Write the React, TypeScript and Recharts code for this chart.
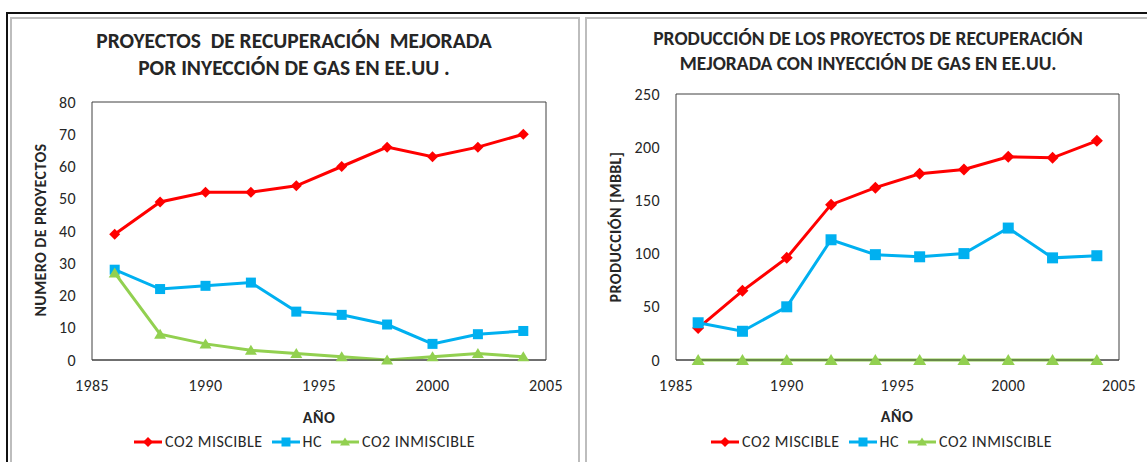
import { LineChart, Line, XAxis, YAxis, ReferenceArea } from 'recharts';

const years = [1986, 1988, 1990, 1992, 1994, 1996, 1998, 2000, 2002, 2004];
const projCO2Miscible = [39, 49, 52, 52, 54, 60, 66, 63, 66, 70];
const projHC = [28, 22, 23, 24, 15, 14, 11, 5, 8, 9];
const projCO2Inmiscible = [27, 8, 5, 3, 2, 1, 0, 1, 2, 1];
const prodCO2Miscible = [30, 65, 96, 146, 162, 175, 179, 191, 190, 206];
const prodHC = [35, 27, 50, 113, 99, 97, 100, 124, 96, 98];
const prodCO2Inmiscible = [0, 0, 0, 0, 0, 0, 0, 0, 0, 0];
const xTicks = [1985, 1990, 1995, 2000, 2005];
const projTicks = [0, 10, 20, 30, 40, 50, 60, 70, 80];
const prodTicks = [0, 50, 100, 150, 200, 250];

const FONT = 'Carlito, Lato, "Open Sans", sans-serif';
const TEXT = '#262626';

const series = [
  { key: 'co2m', name: 'CO2 MISCIBLE', color: '#ff0000', shape: 'diamond' },
  { key: 'hc', name: 'HC', color: '#00b0f0', shape: 'square' },
  { key: 'co2i', name: 'CO2 INMISCIBLE', color: '#92d050', shape: 'triangle' },
];

const projData = years.map((year, i) => ({
  year,
  co2m: projCO2Miscible[i],
  hc: projHC[i],
  co2i: projCO2Inmiscible[i],
}));
const prodData = years.map((year, i) => ({
  year,
  co2m: prodCO2Miscible[i],
  hc: prodHC[i],
  co2i: prodCO2Inmiscible[i],
}));

function Marker({ shape, cx, cy, color, size }: { shape: string; cx: number; cy: number; color: string; size: number }) {
  const r = size / 2;
  if (shape === 'diamond') {
    return <polygon points={`${cx},${cy - r} ${cx + r},${cy} ${cx},${cy + r} ${cx - r},${cy}`} fill={color} />;
  }
  if (shape === 'square') {
    return <rect x={cx - r} y={cy - r} width={size} height={size} fill={color} />;
  }
  return <polygon points={`${cx},${cy - r} ${cx + r + 0.5},${cy + r - 1} ${cx - r - 0.5},${cy + r - 1}`} fill={color} />;
}

function LegendRow({ left, top }: { left: number; top: number }) {
  return (
    <div style={{ position: 'absolute', left, top, display: 'flex', alignItems: 'center', fontFamily: FONT, fontSize: 16, letterSpacing: 0.5, color: TEXT, whiteSpace: 'nowrap' }}>
      {series.map((s) => (
        <div key={s.key} style={{ display: 'flex', alignItems: 'center', marginRight: 9 }}>
          <svg width={28} height={12} style={{ marginRight: 3 }}>
            <line x1={0} y1={6} x2={28} y2={6} stroke={s.color} strokeWidth={3} />
            <Marker shape={s.shape} cx={14} cy={6} color={s.color} size={s.shape === 'diamond' ? 10 : 9} />
          </svg>
          <span>{s.name}</span>
        </div>
      ))}
    </div>
  );
}

type PanelProps = {
  data: any[];
  left: number;
  width: number;
  margin: { top: number; right: number; bottom: number; left: number };
  yMax: number;
  yTicks: number[];
  markerSize: number;
};

const tickStyle = { fill: TEXT, fontSize: 16, fontFamily: FONT, letterSpacing: 0.4 };

function Panel({ data, left, width, margin, yMax, yTicks, markerSize }: PanelProps) {
  return (
    <div style={{ position: 'absolute', left, top: 0 }}>
      <LineChart width={width} height={462} data={data} margin={margin}>
        <XAxis
          type="number"
          dataKey="year"
          domain={[1985, 2005]}
          ticks={xTicks}
          tickLine={false}
          tickSize={0}
          tickMargin={20}
          height={30}
          axisLine={{ stroke: '#404040' }}
          tick={tickStyle}
        />
        <YAxis
          type="number"
          domain={[0, yMax]}
          ticks={yTicks}
          width={60}
          tickLine={false}
          tickSize={0}
          tickMargin={16}
          axisLine={false}
          tick={tickStyle}
        />
        <ReferenceArea x1={1985} x2={2005} y1={0} y2={yMax} fill="none" stroke="#404040" strokeWidth={1} />
        {series.map((s) => (
          <Line
            key={s.key}
            dataKey={s.key}
            name={s.name}
            type="linear"
            stroke={s.color}
            strokeWidth={3}
            isAnimationActive={false}
            dot={(p: any) => (
              <Marker key={`${s.key}-${p.index}`} shape={s.shape} cx={p.cx} cy={p.cy} color={s.color} size={s.shape === 'square' ? markerSize : markerSize + 1} />
            )}
            activeDot={false}
          />
        ))}
      </LineChart>
    </div>
  );
}

const titleStyle: React.CSSProperties = {
  position: 'absolute',
  fontFamily: FONT,
  fontWeight: 700,
  color: TEXT,
  textAlign: 'center',
  whiteSpace: 'pre',
  transform: 'translateX(-50%)',
};

const yLabelStyle: React.CSSProperties = {
  position: 'absolute',
  fontFamily: FONT,
  fontWeight: 700,
  fontSize: 16,
  letterSpacing: 0.4,
  color: TEXT,
  whiteSpace: 'nowrap',
  transform: 'translate(-50%, -50%) rotate(-90deg)',
};

export default function App() {
  return (
    <div style={{ position: 'absolute', left: 0, top: 0, width: 1147, height: 462, background: '#fff', overflow: 'hidden' }}>
      {/* frames */}
      <div style={{ position: 'absolute', left: 6, top: 12, width: 1141, height: 2, background: '#111' }} />
      <div style={{ position: 'absolute', left: 6, top: 12, width: 2, height: 450, background: '#111' }} />
      <div style={{ position: 'absolute', left: 10, top: 17, width: 566, height: 460, border: '2px solid #bdbdbd' }} />
      <div style={{ position: 'absolute', left: 585, top: 17, width: 600, height: 460, border: '2px solid #bdbdbd' }} />

      <Panel data={projData} left={0} width={580} margin={{ top: 102, right: 34, bottom: 72, left: 32 }} yMax={80} yTicks={projTicks} markerSize={10} />
      <Panel data={prodData} left={580} width={567} margin={{ top: 94, right: 28, bottom: 72, left: 36 }} yMax={250} yTicks={prodTicks} markerSize={11} />

      <div style={{ ...titleStyle, left: 294, top: 28, fontSize: 21.5, lineHeight: '27px' }}>
        {'PROYECTOS  DE RECUPERACIÓN  MEJORADA\nPOR INYECCIÓN DE GAS EN EE.UU .'}
      </div>
      <div style={{ ...titleStyle, left: 868, top: 26, fontSize: 19.5, lineHeight: '25px' }}>
        {'PRODUCCIÓN DE LOS PROYECTOS DE RECUPERACIÓN\nMEJORADA CON INYECCIÓN DE GAS EN EE.UU.'}
      </div>

      <div style={{ ...yLabelStyle, left: 40, top: 230 }}>NUMERO DE PROYECTOS</div>
      <div style={{ ...yLabelStyle, left: 615, top: 227 }}>PRODUCCIÓN [MBBL]</div>

      <div style={{ ...yLabelStyle, left: 319, top: 417, transform: 'translate(-50%, -50%)', fontSize: 16 }}>AÑO</div>
      <div style={{ ...yLabelStyle, left: 897, top: 416, transform: 'translate(-50%, -50%)', fontSize: 16 }}>AÑO</div>

      <LegendRow left={134} top={432} />
      <LegendRow left={711} top={432} />
    </div>
  );
}
